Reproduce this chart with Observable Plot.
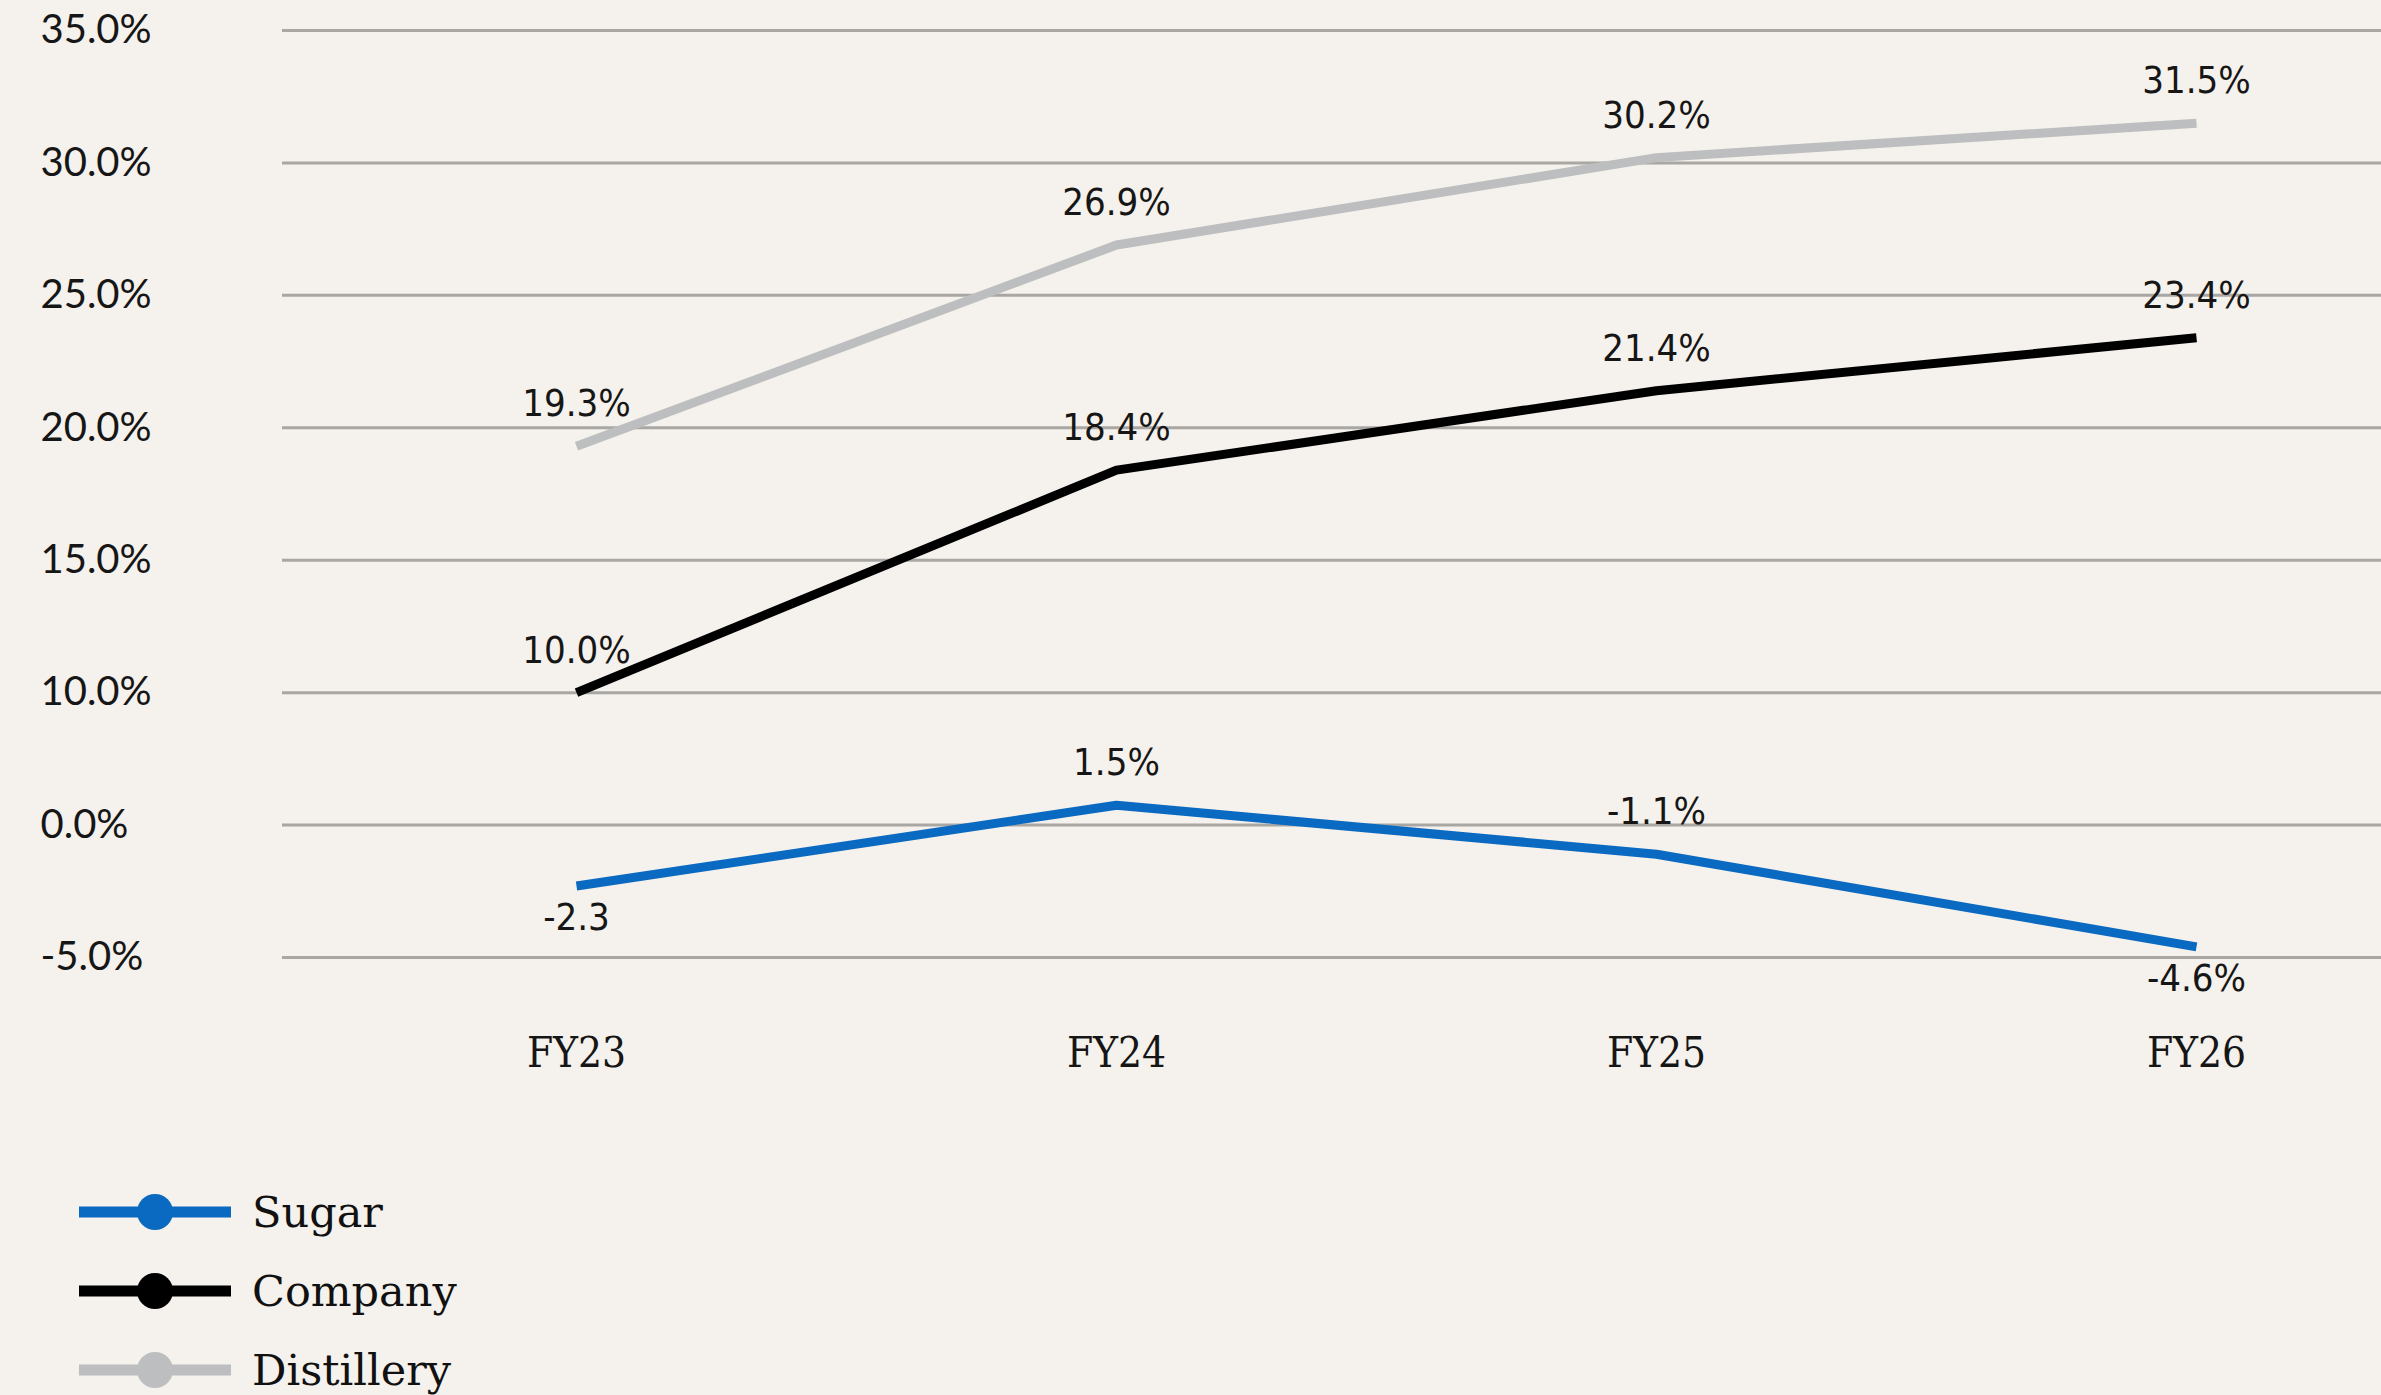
<!DOCTYPE html>
<html>
<head>
<meta charset="utf-8">
<script src="https://cdn.jsdelivr.net/npm/d3@7"></script>
<script src="https://cdn.jsdelivr.net/npm/@observablehq/plot@0.6"></script>
<style>
  html, body { margin: 0; padding: 0; background: #f5f1ec; }
  body { width: 2381px; height: 1395px; overflow: hidden; }
  #chart svg { display: block; }
  g[aria-label="x-axis tick label"] { font-family: "DejaVu Serif Condensed", "DejaVu Serif", serif; font-stretch: condensed; }
  g[aria-label="y-axis tick label"] { font-family: Lato, "Open Sans", sans-serif; }
  g.vlabel { font-family: "DejaVu Sans Condensed", "DejaVu Sans", sans-serif; font-stretch: condensed; }
  #legend { padding: 22px 0 0 79px; font-family: "DejaVu Serif", serif; font-size: 43px; color: #111; }
  #legend .item { display: flex; align-items: center; height: 79px; }
  #legend .item svg { flex: none; margin-right: 21px; }
</style>
</head>
<body>
<div id="chart"></div>
<div id="legend"></div>
<script>
// ---- data ----
const categories = ["FY23", "FY24", "FY25", "FY26"];
const seriesNames = ["Sugar", "Company", "Distillery"];
const seriesColors = ["#0a69c1", "#000000", "#bdbebf"];
const sugar = [-2.3, 1.5, -1.1, -4.6];
const sugarLabels = ["-2.3", "1.5%", "-1.1%", "-4.6%"];
const company = [10.0, 18.4, 21.4, 23.4];
const companyLabels = ["10.0%", "18.4%", "21.4%", "23.4%"];
const distillery = [19.3, 26.9, 30.2, 31.5];
const distilleryLabels = ["19.3%", "26.9%", "30.2%", "31.5%"];
const tickValues = [-5, 0, 10, 15, 20, 25, 30, 35];
const tickLabels = ["-5.0%", "0.0%", "10.0%", "15.0%", "20.0%", "25.0%", "30.0%", "35.0%"];

// ---- build table ----
const seriesValues = [sugar, company, distillery];
const seriesLabels = [sugarLabels, companyLabels, distilleryLabels];
const rows = seriesNames.flatMap((name, s) =>
  seriesValues[s].map((v, i) => ({series: name, cat: categories[i], value: v, label: seriesLabels[s][i]}))
);

// the axis spaces its labelled ticks evenly, so map values piecewise onto tick positions
const tickIndex = tickValues.map((_, i) => i);
const pos = d3.scaleLinear().domain(tickValues).range(tickIndex);
const isBelow = d => d.series === "Sugar" && d.value < -2;

const H = 1150;
const chart = Plot.plot({
  width: 2381,
  height: H,
  marginLeft: 282,
  marginRight: 0,
  marginTop: 30,
  marginBottom: H - 957,
  style: {background: "transparent", overflow: "visible", fontSize: "40px"},
  x: {type: "point", domain: categories, padding: 0.44, align: 0.613, label: null},
  y: {domain: [0, tickValues.length - 1], label: null},
  color: {domain: seriesNames, range: seriesColors},
  marks: [
    Plot.ruleY(tickIndex, {stroke: "#a9a7a4", strokeWidth: 3}),
    Plot.axisY(tickIndex, {tickFormat: i => tickLabels[i], tickSize: 0, tickPadding: 242, textAnchor: "start", fontSize: 40, fill: "#161616"}),
    Plot.axisX({tickSize: 0, tickPadding: 80, fontSize: 42, fill: "#161616"}),
    Plot.line(rows, {x: "cat", y: d => pos(d.value), z: "series", stroke: "series", strokeWidth: 9, strokeLinecap: "butt", strokeLinejoin: "miter"}),
    Plot.text(rows.filter(d => !isBelow(d)), {x: "cat", y: d => pos(d.value), text: "label", dy: -42, fontSize: 38, fill: "#161616", className: "vlabel"}),
    Plot.text(rows.filter(isBelow), {x: "cat", y: d => pos(d.value), text: "label", dy: 32, fontSize: 38, fill: "#161616", className: "vlabel"})
  ]
});
document.getElementById("chart").appendChild(chart);

// ---- legend ----
const legend = d3.select("#legend");
seriesNames.forEach((name, i) => {
  const item = legend.append("div").attr("class", "item");
  const sw = item.append("svg").attr("width", 152).attr("height", 40);
  sw.append("line").attr("x1", 0).attr("x2", 152).attr("y1", 20).attr("y2", 20)
    .attr("stroke", seriesColors[i]).attr("stroke-width", 11);
  sw.append("circle").attr("cx", 76).attr("cy", 20).attr("r", 18).attr("fill", seriesColors[i]);
  item.append("span").text(name);
});
</script>
</body>
</html>
